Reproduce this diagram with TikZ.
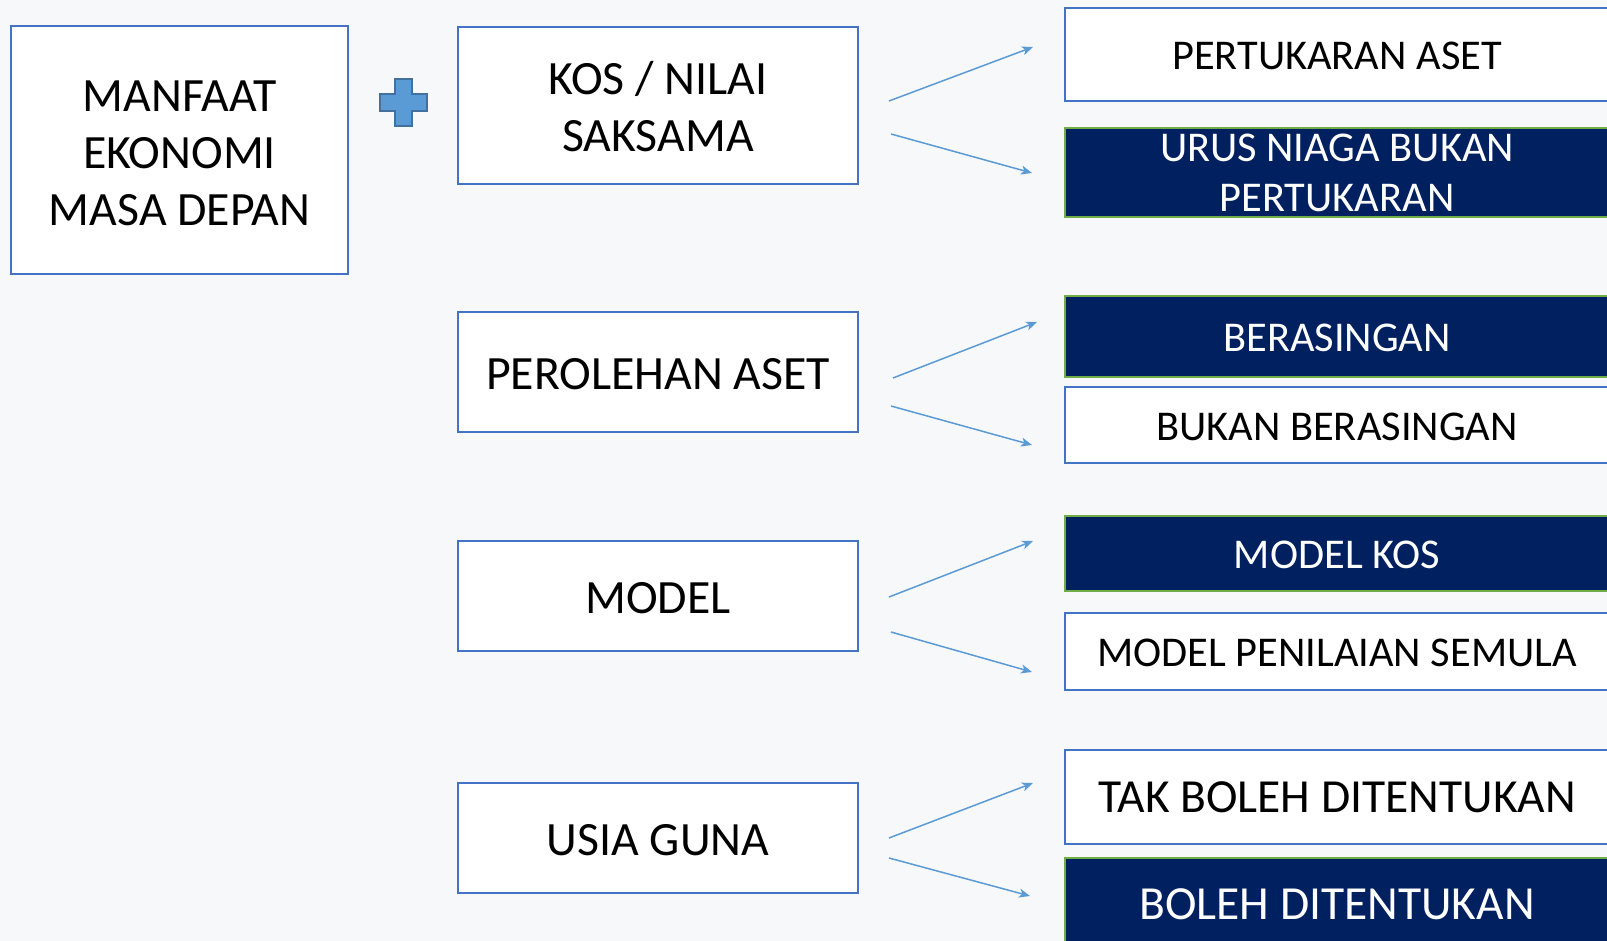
\documentclass[tikz,border=0pt]{standalone}
\usepackage{fontspec}
\setmainfont{Carlito}
\usetikzlibrary{arrows.meta}
\definecolor{boxblue}{HTML}{4472C4}
\definecolor{arrowblue}{HTML}{5B9BD5}
\definecolor{plusedge}{HTML}{41719C}
\definecolor{navy}{HTML}{002060}
\definecolor{leafgreen}{HTML}{70AD47}
\definecolor{backdrop}{HTML}{F7F8FA}
\newcommand{\capstrut}[1]{\rule{0pt}{#1}}
\tikzset{
	mainbox/.style={draw=boxblue, line width=2.2pt, fill=white, align=center, inner sep=0pt,
		font=\fontsize{47.8}{57}\selectfont, execute at begin node={\capstrut{34.5pt}}},
	leafwhite/.style={draw=boxblue, line width=2.2pt, fill=white, align=center, inner sep=0pt,
		minimum width=544pt, font=\fontsize{42.4}{50}\selectfont, execute at begin node={\capstrut{31pt}}},
	leafnavy/.style={leafwhite, draw=leafgreen, fill=navy, text=white},
	arr/.style={draw=arrowblue, line width=1.5pt, -{Stealth[length=11pt,width=9pt,inset=3pt]}}
}
\begin{document}
\begin{tikzpicture}[x=1pt,y=-1pt]
\fill[backdrop] (0,0) rectangle (1607,941);
\useasboundingbox (0,0) rectangle (1607,941);
\clip (0,0) rectangle (1607,941);
% left and middle column
\path
	(179.5,150) node [mainbox, minimum width=337pt, minimum height=248pt] (manfaat) {\capstrut{38pt}MANFAAT\\EKONOMI\\MASA DEPAN}
	(658,105.5) node [mainbox, minimum width=400pt, minimum height=157pt] (kos) {\capstrut{36pt}KOS / NILAI\\SAKSAMA}
	(658,372) node [mainbox, minimum width=400pt, minimum height=120pt] (perolehan) {PEROLEHAN ASET}
	(658,596) node [mainbox, minimum width=400pt, minimum height=110pt] (model) {MODEL}
	(658,838) node [mainbox, minimum width=400pt, minimum height=110pt] (usia) {USIA GUNA};
\filldraw[fill=arrowblue, draw=plusedge, line width=1.5pt]
	(395,79) -- (412,79) -- (412,94) -- (427,94) -- (427,111) -- (412,111) -- (412,126)
	-- (395,126) -- (395,111) -- (380,111) -- (380,94) -- (395,94) -- cycle;
% right column
\path
	(1337,54.5) node [leafwhite, minimum height=93pt] (pertukaran) {PERTUKARAN ASET}
	(1337,172.5) node [leafnavy, minimum height=89pt] (urus) {URUS NIAGA BUKAN\\PERTUKARAN}
	(1337,336.5) node [leafnavy, minimum height=81pt] (berasingan) {BERASINGAN}
	(1337,425) node [leafwhite, minimum height=76pt] (bukan) {BUKAN BERASINGAN}
	(1337,553.5) node [leafnavy, minimum height=75pt] (modelkos) {MODEL KOS}
	(1337,651.5) node [leafwhite, minimum height=77pt] (penilaian) {MODEL PENILAIAN SEMULA}
	(1337,797) node [leafwhite, minimum height=94pt, font=\fontsize{47.5}{56}\selectfont] (takboleh) {TAK BOLEH DITENTUKAN}
	(1337,904) node [leafnavy, minimum height=92pt, font=\fontsize{47.5}{56}\selectfont] (boleh) {BOLEH DITENTUKAN};
% arrow ends
\path
	(889,101) coordinate (kos-a) (1033,47) coordinate (pertukaran-in)
	(891,134) coordinate (kos-b) (1032,173) coordinate (urus-in)
	(893,378) coordinate (perolehan-a) (1037,322) coordinate (berasingan-in)
	(891,406) coordinate (perolehan-b) (1032,445) coordinate (bukan-in)
	(889,597) coordinate (model-a) (1033,541) coordinate (modelkos-in)
	(891,632) coordinate (model-b) (1032,672) coordinate (penilaian-in)
	(889,838) coordinate (usia-a) (1033,783) coordinate (takboleh-in)
	(889,858) coordinate (usia-b) (1030,896) coordinate (boleh-in);
\draw[arr] (kos-a) -- (pertukaran-in);
\draw[arr] (kos-b) -- (urus-in);
\draw[arr] (perolehan-a) -- (berasingan-in);
\draw[arr] (perolehan-b) -- (bukan-in);
\draw[arr] (model-a) -- (modelkos-in);
\draw[arr] (model-b) -- (penilaian-in);
\draw[arr] (usia-a) -- (takboleh-in);
\draw[arr] (usia-b) -- (boleh-in);
\end{tikzpicture}
\end{document}
